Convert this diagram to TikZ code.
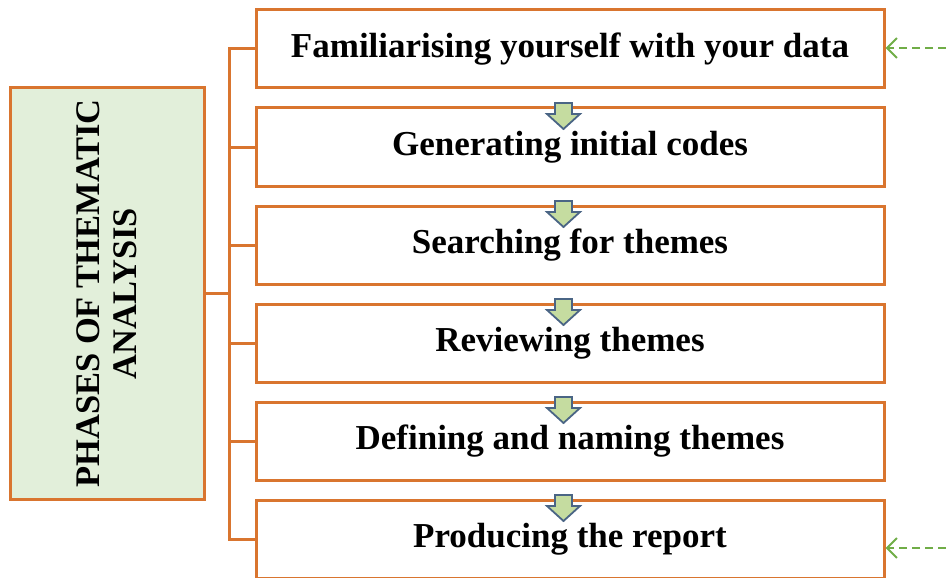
\documentclass[tikz,border=0pt]{standalone}
\usepackage{fontspec}
\setmainfont{Liberation Serif}
\usetikzlibrary{arrows.meta,calc}
\definecolor{orng}{HTML}{D9752F}
\definecolor{lgreen}{HTML}{E2EFDA}
\definecolor{agreen}{HTML}{C5DCA0}
\definecolor{ablue}{HTML}{4A6585}
\definecolor{dgreen}{HTML}{70AD47}
\begin{document}
\begin{tikzpicture}[x=1pt,y=-1pt,
  phasebox/.style={draw=orng,line width=3pt,minimum width=628pt,minimum height=78pt,inner sep=0pt,font=\bfseries\fontsize{35}{40}\selectfont},
  titlebox/.style={draw=orng,line width=3pt,fill=lgreen,minimum width=411pt,minimum height=194pt,inner sep=0pt,rotate=90,align=center,font=\bfseries\fontsize{34.5}{37}\selectfont},
  branch/.style={draw=orng,line width=3pt},
  downarrow/.style={draw=ablue,fill=agreen,line width=1.8pt,line join=miter},
  feedback/.style={draw=dgreen,line width=2pt,dashed,dash pattern=on 8pt off 5pt,-{Straight Barb[length=10pt,width=20pt]}}]
\useasboundingbox (0,0) rectangle (946,578);
\node[titlebox] (title) at (107,293.5) {PHASES OF THEMATIC\\ANALYSIS};
\node[phasebox] (p1) at (570,49) {Familiarising yourself with your data};
\node[phasebox] (p2) at (570,147) {Generating initial codes};
\node[phasebox] (p3) at (570,245) {Searching for themes};
\node[phasebox] (p4) at (570,343) {Reviewing themes};
\node[phasebox] (p5) at (570,441) {Defining and naming themes};
\node[phasebox] (p6) at (570,539) {Producing the report};
\coordinate (spine) at (229,294);
\draw[branch] (title.south) -- (title.south -| spine);
\draw[branch] (p1.west) -| (spine) |- (p6.west);
\foreach \i in {2,3,4,5} \draw[branch] (p\i.west) -- (p\i.west -| spine);
\foreach \a/\b in {p1/p2,p2/p3,p3/p4,p4/p5,p5/p6}{
  \coordinate (arr\a) at ($(\a.south)+(-6.5,13.5)$);
  \draw[downarrow,shift={(arr\a)}] (-8.5,0) -- (8.5,0) -- (8.5,11) -- (16.5,11) -- (0,26) -- (-16.5,11) -- (-8.5,11) -- cycle;
}
\coordinate (f1) at (946,48);
\coordinate (f6) at (946,548);
\draw[feedback] (f1) -- (f1 -| p1.east);
\draw[feedback] (f6) -- (f6 -| p6.east);
\end{tikzpicture}
\end{document}
